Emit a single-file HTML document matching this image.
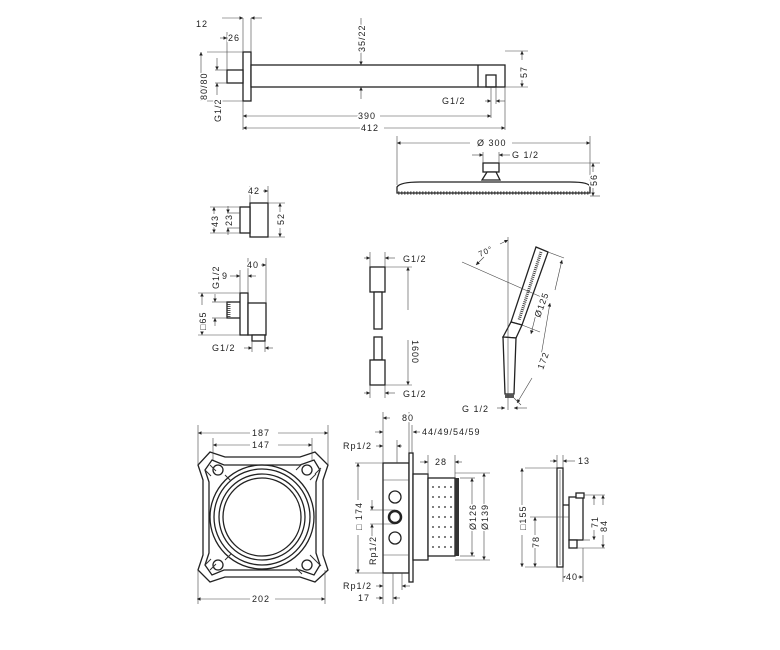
<!DOCTYPE html>
<html><head><meta charset="utf-8"><style>
html,body{margin:0;padding:0;background:#fff}
svg{display:block}
text{font-family:"Liberation Sans",sans-serif;font-size:9px;fill:#222;letter-spacing:1px;stroke:#fff;stroke-width:3px;paint-order:stroke;stroke-linejoin:round}
.l{stroke:#222;stroke-width:1.3;fill:none}
.t{stroke:#444;stroke-width:0.6;fill:none}
.w{stroke:#222;stroke-width:1.3;fill:#fff}
</style></head><body>
<svg width="780" height="650" viewBox="0 0 780 650" xmlns="http://www.w3.org/2000/svg">
<defs>
<marker id="a" markerWidth="6" markerHeight="6" refX="6" refY="3" orient="auto"><path d="M0,0L6,3L0,6z" fill="#222"/></marker>
</defs>

<!-- Shower arm -->
<rect class="w" x="243" y="52" width="8" height="49"/>
<rect class="w" x="227" y="70" width="16" height="13"/>
<rect class="w" x="251" y="65" width="254" height="22"/>
<line class="l" x1="478" y1="65" x2="478" y2="87"/>
<rect class="l" x="486" y="75" width="10" height="12"/>
<g class="t">
<line x1="243" y1="18" x2="243" y2="52"/><line x1="251" y1="18" x2="251" y2="52"/><line x1="227" y1="32" x2="227" y2="70"/>
<line x1="207" y1="52" x2="243" y2="52"/><line x1="207" y1="101" x2="243" y2="101"/>
<line x1="215" y1="70" x2="227" y2="70"/><line x1="215" y1="83" x2="227" y2="83"/>
<line x1="243" y1="101" x2="243" y2="130"/><line x1="505" y1="87" x2="505" y2="130"/><line x1="491" y1="87" x2="491" y2="118"/><line x1="496" y1="87" x2="496" y2="104"/>
<line x1="505" y1="51" x2="528" y2="51"/><line x1="505" y1="87" x2="528" y2="87"/>
<line x1="361" y1="18" x2="361" y2="65" marker-end="url(#a)"/><line x1="361" y1="99" x2="361" y2="87" marker-end="url(#a)"/>
<line x1="222" y1="18" x2="243" y2="18" marker-end="url(#a)"/><line x1="262" y1="18" x2="251" y2="18" marker-end="url(#a)"/>
<line x1="220" y1="38" x2="227" y2="38" marker-end="url(#a)"/>
<line x1="201" y1="75" x2="201" y2="52" marker-end="url(#a)"/><line x1="201" y1="78" x2="201" y2="101" marker-end="url(#a)"/>
<line x1="217" y1="58" x2="217" y2="70" marker-end="url(#a)"/><line x1="217" y1="95" x2="217" y2="83" marker-end="url(#a)"/>
<line x1="522" y1="60" x2="522" y2="51" marker-end="url(#a)"/><line x1="522" y1="80" x2="522" y2="87" marker-end="url(#a)"/>
<line x1="485" y1="101" x2="491" y2="101" marker-end="url(#a)"/><line x1="505" y1="101" x2="496" y2="101" marker-end="url(#a)"/>
<line x1="360" y1="116" x2="243" y2="116" marker-end="url(#a)"/><line x1="380" y1="116" x2="491" y2="116" marker-end="url(#a)"/>
<line x1="360" y1="128" x2="243" y2="128" marker-end="url(#a)"/><line x1="384" y1="128" x2="505" y2="128" marker-end="url(#a)"/>
</g>
<text x="196" y="27">12</text><text x="228" y="41">26</text>
<text transform="translate(365,52) rotate(-90)">35/22</text>
<text transform="translate(527,78) rotate(-90)">57</text>
<text transform="translate(207,100) rotate(-90)">80/80</text>
<text transform="translate(221,122) rotate(-90)">G1/2</text>
<text x="442" y="104">G1/2</text><text x="358" y="119">390</text><text x="361" y="131">412</text>

<!-- Overhead shower -->
<rect class="w" x="483" y="163" width="16" height="9"/>
<path class="w" d="M487,172 L496,172 L500,180 L482,180 Z"/>
<path class="w" d="M397,187 Q400,182 420,182 L570,182 Q590,182 590,187 L590,193 L397,193 Z"/>
<line x1="398" y1="193" x2="590" y2="193" stroke="#444" stroke-width="3" stroke-dasharray="1.5,1.5"/>
<g class="t">
<line x1="397" y1="136" x2="397" y2="185"/><line x1="590" y1="136" x2="590" y2="185"/>
<line x1="470" y1="143" x2="397" y2="143" marker-end="url(#a)"/><line x1="512" y1="143" x2="590" y2="143" marker-end="url(#a)"/>
<line x1="472" y1="155" x2="483" y2="155" marker-end="url(#a)"/><line x1="510" y1="155" x2="499" y2="155" marker-end="url(#a)"/>
<line x1="483" y1="152" x2="483" y2="163"/><line x1="499" y1="152" x2="499" y2="163"/>
<line x1="499" y1="163" x2="600" y2="163"/><line x1="590" y1="196" x2="600" y2="196"/>
<line x1="593" y1="172" x2="593" y2="163" marker-end="url(#a)"/><line x1="593" y1="188" x2="593" y2="196" marker-end="url(#a)"/>
</g>
<text x="477" y="146">Ø 300</text><text x="512" y="158">G 1/2</text>
<text transform="translate(597,186) rotate(-90)">56</text>

<!-- small part 42 -->
<rect class="w" x="250" y="203" width="18" height="34"/>
<rect class="w" x="240" y="207" width="10" height="26"/>
<g class="t">
<line x1="250" y1="186" x2="250" y2="203"/><line x1="268" y1="186" x2="268" y2="203"/>
<line x1="255" y1="191" x2="250" y2="191" marker-end="url(#a)"/><line x1="263" y1="191" x2="268" y2="191" marker-end="url(#a)"/>
<line x1="210" y1="207" x2="240" y2="207"/><line x1="210" y1="233" x2="240" y2="233"/>
<line x1="227" y1="213" x2="240" y2="213"/><line x1="227" y1="228" x2="240" y2="228"/>
<line x1="268" y1="203" x2="285" y2="203"/><line x1="268" y1="237" x2="285" y2="237"/>
<line x1="214" y1="214" x2="214" y2="207" marker-end="url(#a)"/><line x1="214" y1="226" x2="214" y2="233" marker-end="url(#a)"/>
<line x1="228" y1="206" x2="228" y2="213" marker-end="url(#a)"/><line x1="228" y1="235" x2="228" y2="228" marker-end="url(#a)"/>
<line x1="280" y1="212" x2="280" y2="203" marker-end="url(#a)"/><line x1="280" y1="228" x2="280" y2="237" marker-end="url(#a)"/>
</g>
<text x="248" y="194">42</text>
<text transform="translate(218,227) rotate(-90)">43</text>
<text transform="translate(232,226) rotate(-90)">23</text>
<text transform="translate(284,225) rotate(-90)">52</text>

<!-- wall outlet -->
<rect class="w" x="227" y="302" width="14" height="16"/>
<line x1="229" y1="302" x2="229" y2="318" stroke="#555" stroke-width="3" stroke-dasharray="1,1"/>
<rect class="w" x="240" y="293" width="8" height="42"/>
<rect class="w" x="248" y="303" width="18" height="32"/>
<rect class="w" x="252" y="335" width="13" height="6"/>
<g class="t">
<line x1="248" y1="258" x2="248" y2="293"/><line x1="266" y1="258" x2="266" y2="303"/>
<line x1="253" y1="265" x2="248" y2="265" marker-end="url(#a)"/><line x1="261" y1="265" x2="266" y2="265" marker-end="url(#a)"/>
<line x1="230" y1="276" x2="240" y2="276" marker-end="url(#a)"/><line x1="256" y1="276" x2="248" y2="276" marker-end="url(#a)"/>
<line x1="240" y1="270" x2="240" y2="293"/>
<line x1="198" y1="293" x2="240" y2="293"/><line x1="198" y1="335" x2="240" y2="335"/>
<line x1="212" y1="302" x2="227" y2="302"/><line x1="212" y1="318" x2="227" y2="318"/>
<line x1="202" y1="305" x2="202" y2="293" marker-end="url(#a)"/><line x1="202" y1="328" x2="202" y2="335" marker-end="url(#a)"/>
<line x1="215" y1="294" x2="215" y2="302" marker-end="url(#a)"/><line x1="215" y1="326" x2="215" y2="318" marker-end="url(#a)"/>
<line x1="252" y1="341" x2="252" y2="352"/><line x1="265" y1="341" x2="265" y2="352"/>
<line x1="244" y1="348" x2="252" y2="348" marker-end="url(#a)"/><line x1="273" y1="348" x2="265" y2="348" marker-end="url(#a)"/>
</g>
<text x="247" y="268">40</text><text x="222" y="279">9</text>
<text transform="translate(219,289) rotate(-90)">G1/2</text>
<text transform="translate(206,330) rotate(-90)">□65</text>
<text x="212" y="351">G1/2</text>

<!-- hose -->
<rect class="w" x="370" y="267" width="15" height="25"/>
<rect class="w" x="374" y="292" width="8" height="37"/>
<rect class="w" x="374" y="337" width="8" height="23"/>
<rect class="w" x="370" y="360" width="15" height="25"/>
<g class="t">
<line x1="370" y1="252" x2="370" y2="267"/><line x1="385" y1="252" x2="385" y2="267"/>
<line x1="370" y1="385" x2="370" y2="398"/><line x1="385" y1="385" x2="385" y2="398"/>
<line x1="364" y1="258" x2="370" y2="258" marker-end="url(#a)"/><line x1="395" y1="258" x2="385" y2="258" marker-end="url(#a)"/>
<line x1="364" y1="393" x2="370" y2="393" marker-end="url(#a)"/><line x1="395" y1="393" x2="385" y2="393" marker-end="url(#a)"/>
<line x1="385" y1="267" x2="412" y2="267"/><line x1="385" y1="385" x2="412" y2="385"/>
<line x1="408" y1="310" x2="408" y2="267" marker-end="url(#a)"/><line x1="408" y1="340" x2="408" y2="385" marker-end="url(#a)"/>
</g>
<text x="403" y="262">G1/2</text><text x="403" y="397">G1/2</text>
<text transform="translate(412,340) rotate(90)">1600</text>

<!-- hand shower -->
<path class="w" d="M536,247 L548,252 L522,325 L511,322 Z"/>
<path d="M541,252 L519,320" stroke="#444" stroke-width="3" stroke-dasharray="1,1"/>
<path class="w" d="M511,322 L522,325 L516,338 L503,337 Z"/>
<path class="w" d="M503,337 L516,338 L514,394 L505,394 Z"/>
<rect x="505" y="394" width="9" height="4" fill="#555"/>
<g class="t">
<line x1="508" y1="237" x2="508" y2="410"/>
<line x1="462" y1="262" x2="548" y2="300"/>
<line x1="500" y1="244" x2="508" y2="240" marker-end="url(#a)"/><line x1="484" y1="257" x2="476" y2="265" marker-end="url(#a)"/>
<line x1="548" y1="252" x2="564" y2="258"/><line x1="522" y1="325" x2="540" y2="332"/>
<line x1="555" y1="290" x2="562" y2="260" marker-end="url(#a)"/><line x1="537" y1="310" x2="531" y2="334" marker-end="url(#a)"/>
<line x1="540" y1="362" x2="550" y2="303" marker-end="url(#a)"/><line x1="532" y1="378" x2="517" y2="403" marker-end="url(#a)"/>
<line x1="514" y1="398" x2="521" y2="405"/>
<line x1="497" y1="408" x2="505" y2="408" marker-end="url(#a)"/><line x1="527" y1="408" x2="514" y2="408" marker-end="url(#a)"/>
</g>
<text transform="translate(480,257) rotate(-25)" style="font-size:8px">70°</text>
<text transform="translate(540,318) rotate(-70)">Ø125</text>
<text transform="translate(543,370) rotate(-70)">172</text>
<text x="462" y="412">G 1/2</text>

<!-- mounting bracket -->
<path class="w" d="M210,452 L225,457 L300,457 L315,452 L328,465 L323,480 L323,555 L328,570 L315,582 L300,577 L225,577 L210,582 L198,570 L203,555 L203,480 L198,465 Z"/>
<path class="l" d="M212,460 L224,465 L300,465 L314,460 L320,470 L316,482 L316,553 L320,565 L314,575 L300,570 L224,570 L212,575 L205,565 L209,553 L209,482 L205,470 Z" stroke-width="0.8"/>
<circle class="l" cx="262" cy="517" r="52"/>
<circle class="l" cx="262" cy="517" r="48" stroke-width="2.5"/>
<circle class="l" cx="262" cy="517" r="43"/>
<circle class="l" cx="262" cy="517" r="39"/>
<g fill="#fff" stroke="#222" stroke-width="1.3">
<circle cx="218" cy="470" r="5"/><circle cx="307" cy="470" r="5"/><circle cx="218" cy="565" r="5"/><circle cx="307" cy="565" r="5"/>
</g>
<g stroke="#333" stroke-width="1" fill="none">
<path d="M205,470 l6,6 M210,465 l6,6 M225,475 l6,6 M310,480 l6,-6 M315,474 l6,-6 M296,470 l6,-6 M205,565 l6,-6 M210,570 l6,-6 M225,560 l6,-6 M310,555 l6,6 M315,560 l6,6 M296,568 l6,6"/>
</g>
<g class="t">
<line x1="198" y1="425" x2="198" y2="465"/><line x1="328" y1="425" x2="328" y2="465"/>
<line x1="213" y1="438" x2="213" y2="460"/><line x1="312" y1="438" x2="312" y2="460"/>
<line x1="250" y1="433" x2="198" y2="433" marker-end="url(#a)"/><line x1="278" y1="433" x2="328" y2="433" marker-end="url(#a)"/>
<line x1="250" y1="445" x2="213" y2="445" marker-end="url(#a)"/><line x1="278" y1="445" x2="312" y2="445" marker-end="url(#a)"/>
<line x1="198" y1="570" x2="198" y2="604"/><line x1="325" y1="570" x2="325" y2="604"/>
<line x1="250" y1="599" x2="197" y2="599" marker-end="url(#a)"/><line x1="275" y1="599" x2="325" y2="599" marker-end="url(#a)"/>
</g>
<text x="252" y="436">187</text><text x="252" y="448">147</text><text x="252" y="602">202</text>

<!-- iBox -->
<rect class="w" x="383" y="463" width="26" height="110"/>
<rect class="w" x="409" y="453" width="4" height="129"/>
<rect class="w" x="413" y="474" width="15" height="86"/>
<rect class="w" x="428" y="478" width="27" height="78"/>
<rect x="455" y="478" width="4" height="78" fill="#333"/>
<g stroke="#333" stroke-width="1.2"><line x1="432" y1="487" x2="452" y2="487" stroke-dasharray="2,4"/><line x1="432" y1="497" x2="452" y2="497" stroke-dasharray="2,4"/><line x1="432" y1="507" x2="452" y2="507" stroke-dasharray="2,4"/><line x1="432" y1="517" x2="452" y2="517" stroke-dasharray="2,4"/><line x1="432" y1="527" x2="452" y2="527" stroke-dasharray="2,4"/><line x1="432" y1="537" x2="452" y2="537" stroke-dasharray="2,4"/><line x1="432" y1="547" x2="452" y2="547" stroke-dasharray="2,4"/></g>
<line x1="383" y1="480" x2="409" y2="480" class="t"/><line x1="383" y1="555" x2="409" y2="555" class="t"/>
<circle class="w" cx="395" cy="497" r="6"/>
<circle cx="395" cy="517" r="6" fill="#fff" stroke="#222" stroke-width="2.5"/>
<circle class="w" cx="395" cy="538" r="6"/>
<g class="t">
<line x1="383" y1="412" x2="383" y2="463"/><line x1="409" y1="412" x2="409" y2="453"/><line x1="412" y1="425" x2="412" y2="453"/>
<line x1="390" y1="418" x2="383" y2="418" marker-end="url(#a)"/><line x1="402" y1="418" x2="409" y2="418" marker-end="url(#a)"/>
<line x1="420" y1="432" x2="413" y2="432" marker-end="url(#a)"/>
<line x1="375" y1="432" x2="383" y2="432" marker-end="url(#a)"/>
<line x1="376" y1="446" x2="383" y2="446" marker-end="url(#a)"/><line x1="402" y1="446" x2="397" y2="446" marker-end="url(#a)"/><line x1="397" y1="440" x2="397" y2="463"/>
<line x1="428" y1="455" x2="428" y2="478"/><line x1="455" y1="455" x2="455" y2="478"/>
<line x1="420" y1="462" x2="428" y2="462" marker-end="url(#a)"/><line x1="462" y1="462" x2="455" y2="462" marker-end="url(#a)"/>
<line x1="455" y1="473" x2="490" y2="473"/><line x1="455" y1="560" x2="490" y2="560"/>
<line x1="460" y1="478" x2="475" y2="478"/><line x1="460" y1="556" x2="475" y2="556"/>
<line x1="472" y1="505" x2="472" y2="478" marker-end="url(#a)"/><line x1="472" y1="530" x2="472" y2="556" marker-end="url(#a)"/>
<line x1="484" y1="505" x2="484" y2="473" marker-end="url(#a)"/><line x1="484" y1="530" x2="484" y2="560" marker-end="url(#a)"/>
<line x1="355" y1="463" x2="383" y2="463"/><line x1="355" y1="573" x2="383" y2="573"/>
<line x1="358" y1="500" x2="358" y2="463" marker-end="url(#a)"/><line x1="358" y1="535" x2="358" y2="573" marker-end="url(#a)"/>
<line x1="370" y1="510" x2="395" y2="510"/><line x1="370" y1="524" x2="395" y2="524"/>
<line x1="372" y1="500" x2="372" y2="510" marker-end="url(#a)"/><line x1="372" y1="545" x2="372" y2="524" marker-end="url(#a)"/>
<line x1="383" y1="573" x2="383" y2="604"/><line x1="393" y1="573" x2="393" y2="604"/><line x1="402" y1="573" x2="402" y2="590"/>
<line x1="376" y1="586" x2="383" y2="586" marker-end="url(#a)"/><line x1="410" y1="586" x2="402" y2="586" marker-end="url(#a)"/>
<line x1="376" y1="598" x2="383" y2="598" marker-end="url(#a)"/><line x1="400" y1="598" x2="393" y2="598" marker-end="url(#a)"/>
</g>
<text x="402" y="421">80</text><text x="422" y="435">44/49/54/59</text>
<text x="343" y="449">Rp1/2</text><text x="435" y="465">28</text>
<text transform="translate(362,530) rotate(-90)">□ 174</text>
<text transform="translate(376,565) rotate(-90)">Rp1/2</text>
<text transform="translate(476,530) rotate(-90)">Ø126</text>
<text transform="translate(488,530) rotate(-90)">Ø139</text>
<text x="343" y="589">Rp1/2</text><text x="358" y="601">17</text>

<!-- trim -->
<rect class="w" x="557" y="468" width="6" height="99"/>
<line x1="560" y1="470" x2="560" y2="565" class="t"/>
<rect class="w" x="569" y="497" width="14" height="43"/>
<rect class="w" x="576" y="493" width="8" height="5"/>
<rect class="w" x="569" y="540" width="8" height="8"/>
<line class="l" x1="563" y1="505" x2="569" y2="505"/>
<g class="t">
<line x1="557" y1="455" x2="557" y2="468"/><line x1="563" y1="455" x2="563" y2="468"/>
<line x1="550" y1="461" x2="557" y2="461" marker-end="url(#a)"/><line x1="575" y1="461" x2="563" y2="461" marker-end="url(#a)"/>
<line x1="525" y1="468" x2="557" y2="468"/><line x1="525" y1="567" x2="557" y2="567"/>
<line x1="522" y1="505" x2="522" y2="468" marker-end="url(#a)"/><line x1="522" y1="535" x2="522" y2="567" marker-end="url(#a)"/>
<line x1="530" y1="517" x2="569" y2="517"/>
<line x1="535" y1="535" x2="535" y2="517" marker-end="url(#a)"/><line x1="535" y1="548" x2="535" y2="567" marker-end="url(#a)"/>
<line x1="584" y1="495" x2="605" y2="495"/><line x1="584" y1="540" x2="590" y2="540"/><line x1="577" y1="548" x2="605" y2="548"/>
<line x1="594" y1="505" x2="594" y2="495" marker-end="url(#a)"/><line x1="594" y1="530" x2="594" y2="540" marker-end="url(#a)"/>
<line x1="603" y1="505" x2="603" y2="495" marker-end="url(#a)"/><line x1="603" y1="535" x2="603" y2="548" marker-end="url(#a)"/>
<line x1="563" y1="567" x2="563" y2="582"/><line x1="583" y1="548" x2="583" y2="582"/>
<line x1="568" y1="577" x2="563" y2="577" marker-end="url(#a)"/><line x1="578" y1="577" x2="583" y2="577" marker-end="url(#a)"/>
</g>
<text x="578" y="464">13</text>
<text transform="translate(526,530) rotate(-90)">□155</text>
<text transform="translate(539,548) rotate(-90)">78</text>
<text transform="translate(598,528) rotate(-90)">71</text>
<text transform="translate(607,532) rotate(-90)">84</text>
<text x="566" y="580">40</text>
</svg>
</body></html>
